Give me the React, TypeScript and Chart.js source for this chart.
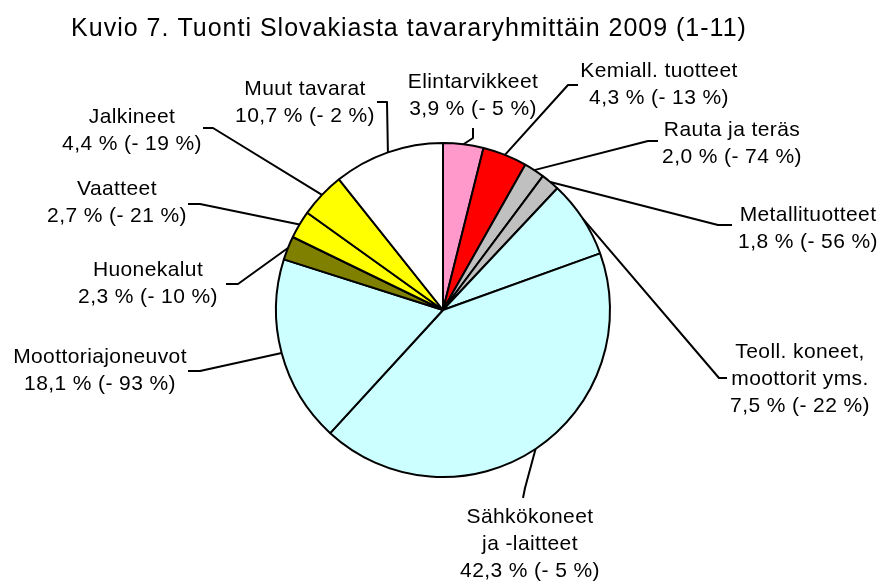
import React, { useEffect, useRef } from "react";
import { Chart, registerables } from "chart.js";

Chart.register(...registerables);

const TITLE = "Kuvio 7. Tuonti Slovakiasta tavararyhmittäin 2009 (1-11)";

const categories: string[][] = [
  ["Elintarvikkeet"],
  ["Kemiall. tuotteet"],
  ["Rauta ja teräs"],
  ["Metallituotteet"],
  ["Teoll. koneet,", "moottorit yms."],
  ["Sähkökoneet", "ja -laitteet"],
  ["Moottoriajoneuvot"],
  ["Huonekalut"],
  ["Vaatteet"],
  ["Jalkineet"],
  ["Muut tavarat"],
];
const shares = [3.9, 4.3, 2.0, 1.8, 7.5, 42.3, 18.1, 2.3, 2.7, 4.4, 10.7];
const changes = [-5, -13, -74, -56, -22, -5, -93, -10, -21, -19, -2];
const sliceColors = [
  "#FF99CC",
  "#FF0000",
  "#C0C0C0",
  "#C0C0C0",
  "#CCFFFF",
  "#CCFFFF",
  "#CCFFFF",
  "#808000",
  "#FFFF00",
  "#FFFF00",
  "#FFFFFF",
];

// label layout: center x, first baseline y, leader polyline (from text side toward slice)
const labelLayout: { x: number; y: number; leader: number[][] }[] = [
  { x: 473, y: 88, leader: [[473, 128], [473, 138]] },
  { x: 659, y: 77, leader: [[578, 85], [568, 85]] },
  { x: 732, y: 136, leader: [[658, 141], [648, 141]] },
  { x: 808, y: 221, leader: [[732, 225], [718, 225]] },
  { x: 800, y: 358, leader: [[727, 378], [719, 378]] },
  { x: 530, y: 523, leader: [[523, 498], [525, 488]] },
  { x: 100, y: 363, leader: [[188, 371], [200, 371]] },
  { x: 148, y: 276, leader: [[226, 284], [238, 284]] },
  { x: 117, y: 195, leader: [[188, 204], [200, 204]] },
  { x: 132, y: 123, leader: [[203, 128], [213, 128]] },
  { x: 305, y: 95, leader: [[377, 102], [387, 102]] },
];

const FONT = "Liberation Sans, Arial, sans-serif";
const LINE_H = 27;

const fmt = (v: number) => v.toFixed(1).replace(".", ",");

const labelPlugin = {
  id: "pieLabels",
  afterDraw(chart: any) {
    const ctx = chart.ctx as CanvasRenderingContext2D & { letterSpacing?: string };
    const meta = chart.getDatasetMeta(0);
    ctx.save();
    // title
    ctx.fillStyle = "#000";
    ctx.font = `25px ${FONT}`;
    ctx.letterSpacing = "1px";
    ctx.textAlign = "center";
    ctx.textBaseline = "alphabetic";
    ctx.fillText(TITLE, 409, 36);

    // leaders
    ctx.strokeStyle = "#000";
    ctx.lineWidth = 2;
    ctx.lineJoin = "round";
    meta.data.forEach((arc: any, i: number) => {
      const { x, y, startAngle, endAngle, outerRadius } = arc.getProps(
        ["x", "y", "startAngle", "endAngle", "outerRadius"],
        true
      );
      const mid = (startAngle + endAngle) / 2;
      const px = x + Math.cos(mid) * outerRadius;
      const py = y + Math.sin(mid) * outerRadius;
      const pts = labelLayout[i].leader;
      ctx.beginPath();
      ctx.moveTo(pts[0][0], pts[0][1]);
      for (let k = 1; k < pts.length; k++) ctx.lineTo(pts[k][0], pts[k][1]);
      ctx.lineTo(px, py);
      ctx.stroke();
    });

    // texts
    ctx.font = `21px ${FONT}`;
    ctx.letterSpacing = "0.4px";
    ctx.fillStyle = "#000";
    ctx.textAlign = "center";
    categories.forEach((lines, i) => {
      const all = [...lines, `${fmt(shares[i])} % (- ${Math.abs(changes[i])} %)`];
      const lay = labelLayout[i];
      all.forEach((t, k) => ctx.fillText(t, lay.x, lay.y + k * LINE_H));
    });
    ctx.restore();
  },
};

export default function App() {
  const ref = useRef<HTMLCanvasElement | null>(null);
  useEffect(() => {
    if (!ref.current) return;
    const chart = new Chart(ref.current, {
      type: "pie",
      data: {
        labels: categories.map((c) => c.join(" ")),
        datasets: [
          {
            data: shares,
            backgroundColor: sliceColors,
            borderColor: "#000",
            borderWidth: 2,
            radius: 167,
            hoverOffset: 0,
          } as any,
        ],
      },
      options: {
        responsive: false,
        animation: false,
        devicePixelRatio: 1,
        layout: { padding: { left: 6, right: 0, top: 38, bottom: 0 } },
        plugins: {
          legend: { display: false },
          tooltip: { enabled: false },
          title: { display: false },
        },
        events: [],
      },
      plugins: [labelPlugin],
    });
    return () => chart.destroy();
  }, []);
  return (
    <div style={{ position: "fixed", left: 0, top: 0, width: 880, height: 582, background: "#fff" }}>
      <canvas ref={ref} width={880} height={582} style={{ width: 880, height: 582, display: "block" }} />
    </div>
  );
}
